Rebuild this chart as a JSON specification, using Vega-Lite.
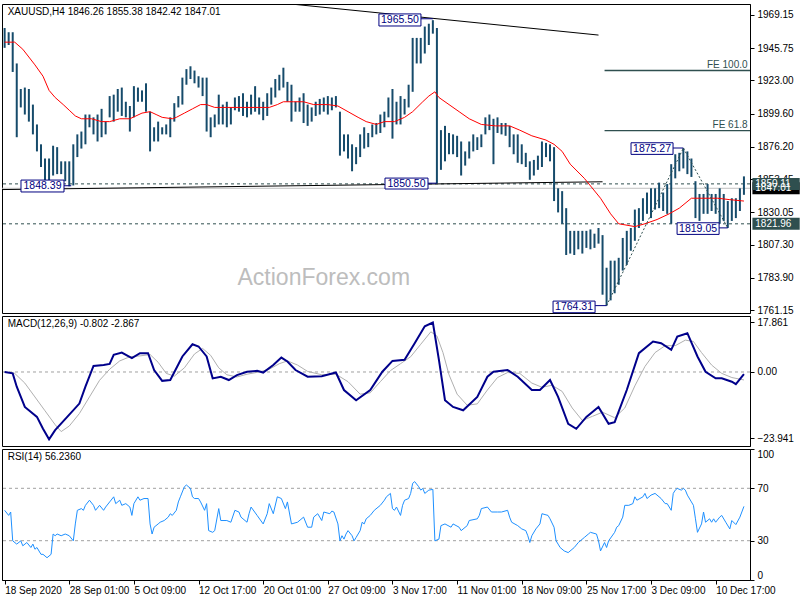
{
"$schema":"https://vega.github.io/schema/vega-lite/v6.json",
"background":"white",
"padding":{"left":0,"top":3,"right":0,"bottom":0},
"spacing":3,
"bounds":"flush",
"config":{"view":{"stroke":"black","strokeWidth":1},"axis":{"labelFont":"Liberation Sans","labelFontSize":10,"labelColor":"black","domainColor":"black","tickColor":"black","grid":false,"tickSize":4,"labelPadding":3},"text":{"font":"Liberation Sans","fontSize":10}},
"datasets":{
"px":[{"i":0,"h":1960,"l":1946},{"i":2,"h":1957,"l":1948},{"i":4,"h":1957,"l":1929},{"i":6,"h":1935,"l":1883},{"i":8,"h":1917,"l":1904},{"i":10,"h":1918,"l":1899},{"i":12,"h":1917,"l":1894},{"i":14,"h":1906,"l":1885},{"i":16,"h":1892,"l":1873},{"i":18,"h":1878,"l":1862},{"i":20,"h":1868,"l":1852},{"i":22,"h":1868,"l":1851},{"i":24,"h":1877,"l":1856},{"i":26,"h":1876,"l":1857},{"i":28,"h":1866,"l":1857},{"i":30,"h":1866,"l":1852},{"i":32,"h":1866,"l":1848.4},{"i":34,"h":1878,"l":1849},{"i":36,"h":1885,"l":1869},{"i":38,"h":1887,"l":1875},{"i":40,"h":1899,"l":1878},{"i":42,"h":1899,"l":1890},{"i":44,"h":1897,"l":1885},{"i":46,"h":1899,"l":1880},{"i":48,"h":1903,"l":1883},{"i":50,"h":1894,"l":1885},{"i":52,"h":1912,"l":1897},{"i":54,"h":1913,"l":1894},{"i":56,"h":1917,"l":1901},{"i":58,"h":1918,"l":1898},{"i":60,"h":1908,"l":1897},{"i":62,"h":1905,"l":1887},{"i":64,"h":1919,"l":1897},{"i":66,"h":1918,"l":1908},{"i":68,"h":1916,"l":1908},{"i":70,"h":1921,"l":1901},{"i":72,"h":1901,"l":1873},{"i":74,"h":1890,"l":1880},{"i":76,"h":1894,"l":1880},{"i":78,"h":1890,"l":1885},{"i":80,"h":1892,"l":1885},{"i":82,"h":1897,"l":1883},{"i":84,"h":1907,"l":1894},{"i":86,"h":1912,"l":1904},{"i":88,"h":1925,"l":1906},{"i":90,"h":1931,"l":1920},{"i":92,"h":1933,"l":1924},{"i":94,"h":1930,"l":1921},{"i":96,"h":1926,"l":1918},{"i":98,"h":1925,"l":1912},{"i":100,"h":1925,"l":1887},{"i":102,"h":1897,"l":1883},{"i":104,"h":1899,"l":1890},{"i":106,"h":1913,"l":1892},{"i":108,"h":1906,"l":1892},{"i":110,"h":1908,"l":1890},{"i":112,"h":1904,"l":1892},{"i":114,"h":1911,"l":1902},{"i":116,"h":1912,"l":1901},{"i":118,"h":1914,"l":1898},{"i":120,"h":1908,"l":1897},{"i":122,"h":1913,"l":1899},{"i":124,"h":1919,"l":1901},{"i":126,"h":1911,"l":1899},{"i":128,"h":1908,"l":1895},{"i":130,"h":1914,"l":1898},{"i":132,"h":1918,"l":1906},{"i":134,"h":1924,"l":1911},{"i":136,"h":1927,"l":1916},{"i":138,"h":1932,"l":1918},{"i":140,"h":1922,"l":1908},{"i":142,"h":1920,"l":1894},{"i":144,"h":1908,"l":1901},{"i":146,"h":1911,"l":1901},{"i":148,"h":1914,"l":1893},{"i":150,"h":1906,"l":1891},{"i":152,"h":1904,"l":1894},{"i":154,"h":1908,"l":1898},{"i":156,"h":1910,"l":1899},{"i":158,"h":1911,"l":1901},{"i":160,"h":1912,"l":1899},{"i":162,"h":1911,"l":1902},{"i":164,"h":1912,"l":1904},{"i":166,"h":1901,"l":1870},{"i":168,"h":1885,"l":1873},{"i":170,"h":1885,"l":1868},{"i":172,"h":1878,"l":1859},{"i":174,"h":1876,"l":1864},{"i":176,"h":1885,"l":1869},{"i":178,"h":1890,"l":1875},{"i":180,"h":1886,"l":1876},{"i":182,"h":1892,"l":1883},{"i":184,"h":1893,"l":1885},{"i":186,"h":1899,"l":1886},{"i":188,"h":1901,"l":1890},{"i":190,"h":1911,"l":1897},{"i":192,"h":1917,"l":1882},{"i":194,"h":1908,"l":1892},{"i":196,"h":1912,"l":1892},{"i":198,"h":1910,"l":1899},{"i":200,"h":1920,"l":1904},{"i":202,"h":1953,"l":1915},{"i":204,"h":1953,"l":1935},{"i":206,"h":1953,"l":1935},{"i":208,"h":1961,"l":1942},{"i":210,"h":1963,"l":1948},{"i":212,"h":1965.5,"l":1956},{"i":214,"h":1960,"l":1850.5},{"i":216,"h":1888,"l":1860},{"i":218,"h":1891,"l":1866},{"i":220,"h":1886,"l":1871},{"i":222,"h":1885,"l":1871},{"i":224,"h":1884,"l":1869},{"i":226,"h":1880,"l":1856},{"i":228,"h":1873,"l":1863},{"i":230,"h":1880,"l":1868},{"i":232,"h":1885,"l":1873},{"i":234,"h":1883,"l":1874},{"i":236,"h":1885,"l":1876},{"i":238,"h":1897,"l":1885},{"i":240,"h":1899,"l":1888},{"i":242,"h":1896,"l":1864},{"i":244,"h":1897,"l":1886},{"i":246,"h":1893,"l":1885},{"i":248,"h":1893,"l":1884},{"i":250,"h":1891,"l":1876},{"i":252,"h":1885,"l":1871},{"i":254,"h":1885,"l":1865},{"i":256,"h":1878,"l":1864},{"i":258,"h":1872,"l":1862},{"i":260,"h":1866,"l":1853},{"i":262,"h":1867,"l":1856},{"i":264,"h":1870,"l":1860},{"i":266,"h":1880,"l":1862},{"i":268,"h":1879,"l":1869},{"i":270,"h":1878,"l":1866},{"i":272,"h":1876,"l":1838},{"i":274,"h":1847,"l":1830},{"i":276,"h":1845,"l":1822},{"i":278,"h":1833,"l":1800},{"i":280,"h":1817,"l":1801},{"i":282,"h":1817,"l":1800},{"i":284,"h":1817,"l":1804},{"i":286,"h":1817,"l":1801},{"i":288,"h":1817,"l":1805},{"i":290,"h":1818,"l":1804},{"i":292,"h":1815,"l":1805},{"i":294,"h":1819,"l":1808},{"i":296,"h":1814,"l":1772},{"i":298,"h":1791,"l":1764.3},{"i":300,"h":1796,"l":1768},{"i":302,"h":1796,"l":1773},{"i":304,"h":1798,"l":1779},{"i":306,"h":1812,"l":1789},{"i":308,"h":1817,"l":1793},{"i":310,"h":1819,"l":1803},{"i":312,"h":1832,"l":1810},{"i":314,"h":1833,"l":1819},{"i":316,"h":1840,"l":1824},{"i":318,"h":1844,"l":1829},{"i":320,"h":1847,"l":1826},{"i":322,"h":1847,"l":1832},{"i":324,"h":1851,"l":1833},{"i":326,"h":1844,"l":1831},{"i":328,"h":1850,"l":1829},{"i":330,"h":1864,"l":1822},{"i":332,"h":1871,"l":1854},{"i":334,"h":1872,"l":1859},{"i":336,"h":1875.3,"l":1861},{"i":338,"h":1873,"l":1857},{"i":340,"h":1868,"l":1855},{"i":342,"h":1852,"l":1826},{"i":344,"h":1843,"l":1824},{"i":346,"h":1843,"l":1829},{"i":348,"h":1850,"l":1829},{"i":350,"h":1843,"l":1831},{"i":352,"h":1843,"l":1829},{"i":354,"h":1847,"l":1822},{"i":356,"h":1843,"l":1824},{"i":358,"h":1838,"l":1819.05},{"i":360,"h":1840,"l":1824},{"i":362,"h":1840,"l":1826},{"i":364,"h":1847,"l":1831},{"i":366,"h":1855.4,"l":1842.4}],
"ma":[{"i":0,"v":1950},{"i":5,"v":1950},{"i":9,"v":1945},{"i":15,"v":1934},{"i":19,"v":1926},{"i":22,"v":1916},{"i":25,"v":1911},{"i":29,"v":1906},{"i":32,"v":1902},{"i":35,"v":1898},{"i":38,"v":1896},{"i":43,"v":1896},{"i":48,"v":1894},{"i":52,"v":1894},{"i":57,"v":1896},{"i":62,"v":1896},{"i":65,"v":1898},{"i":68,"v":1900},{"i":72,"v":1901},{"i":75,"v":1899},{"i":78,"v":1897},{"i":83,"v":1896},{"i":85,"v":1897},{"i":89,"v":1900},{"i":93,"v":1903},{"i":97,"v":1906},{"i":100,"v":1906},{"i":104,"v":1904},{"i":110,"v":1904},{"i":117,"v":1904},{"i":124,"v":1904},{"i":131,"v":1904},{"i":135,"v":1906},{"i":138,"v":1908},{"i":143,"v":1908},{"i":148,"v":1908},{"i":153,"v":1906},{"i":160,"v":1906},{"i":165,"v":1905},{"i":170,"v":1901},{"i":175,"v":1897},{"i":179,"v":1894},{"i":184,"v":1892},{"i":188,"v":1894},{"i":193,"v":1894},{"i":198,"v":1897},{"i":202,"v":1901},{"i":207,"v":1908},{"i":210,"v":1912},{"i":213,"v":1915},{"i":215,"v":1911},{"i":220,"v":1906},{"i":225,"v":1901},{"i":230,"v":1896},{"i":236,"v":1892},{"i":243,"v":1891},{"i":250,"v":1891},{"i":255,"v":1888},{"i":261,"v":1884},{"i":268,"v":1881},{"i":272,"v":1878},{"i":276,"v":1873},{"i":280,"v":1864},{"i":287,"v":1854},{"i":295,"v":1840},{"i":300,"v":1829},{"i":304,"v":1822},{"i":312,"v":1820},{"i":317,"v":1822},{"i":323,"v":1825},{"i":329,"v":1829},{"i":334,"v":1833},{"i":340,"v":1840},{"i":344,"v":1840},{"i":353,"v":1840},{"i":359,"v":1839},{"i":366,"v":1838}],
"macd":[{"i":0,"v":0},{"i":4,"v":-0.5},{"i":6,"v":-5.3},{"i":10,"v":-12.6},{"i":16,"v":-16.2},{"i":19,"v":-20.5},{"i":22,"v":-24.3},{"i":25,"v":-21},{"i":31,"v":-16.2},{"i":37,"v":-11.4},{"i":40,"v":-5.3},{"i":44,"v":2.2},{"i":49,"v":2.5},{"i":52,"v":2.9},{"i":54,"v":6.2},{"i":58,"v":7},{"i":63,"v":5},{"i":67,"v":6.8},{"i":71,"v":6.8},{"i":74,"v":0.7},{"i":78,"v":-3.2},{"i":82,"v":-2.9},{"i":88,"v":5.6},{"i":93,"v":10},{"i":96,"v":9.2},{"i":100,"v":5.6},{"i":103,"v":-2.3},{"i":107,"v":-1.7},{"i":111,"v":-2.9},{"i":115,"v":-1.1},{"i":120,"v":0.1},{"i":125,"v":0.4},{"i":128,"v":-0.2},{"i":133,"v":2.5},{"i":137,"v":5.2},{"i":140,"v":3.8},{"i":144,"v":0.7},{"i":150,"v":-1.7},{"i":157,"v":-1.5},{"i":164,"v":-0.2},{"i":168,"v":-6.5},{"i":174,"v":-10.2},{"i":181,"v":-6.5},{"i":187,"v":0.1},{"i":192,"v":4},{"i":198,"v":4.4},{"i":203,"v":10.4},{"i":208,"v":16.5},{"i":212,"v":17.86},{"i":215,"v":4.4},{"i":218,"v":-10.2},{"i":222,"v":-12.6},{"i":227,"v":-13.8},{"i":234,"v":-9},{"i":239,"v":-1.7},{"i":242,"v":0.1},{"i":249,"v":0.7},{"i":254,"v":-1.7},{"i":261,"v":-6.5},{"i":265,"v":-6.5},{"i":270,"v":-2.9},{"i":274,"v":-9},{"i":279,"v":-18.7},{"i":283,"v":-20.5},{"i":288,"v":-16.2},{"i":294,"v":-12.6},{"i":299,"v":-18.7},{"i":302,"v":-18.1},{"i":308,"v":-6.5},{"i":314,"v":6.8},{"i":321,"v":11},{"i":325,"v":10.4},{"i":330,"v":8},{"i":333,"v":12.8},{"i":338,"v":14},{"i":343,"v":5.6},{"i":347,"v":0.1},{"i":352,"v":-2.3},{"i":355,"v":-2.3},{"i":360,"v":-3.5},{"i":362,"v":-4.4},{"i":366,"v":-0.8}],
"sig":[{"i":0,"v":0},{"i":5,"v":-0.5},{"i":10,"v":-4},{"i":15,"v":-9},{"i":20,"v":-14},{"i":25,"v":-19},{"i":28,"v":-21.5},{"i":32,"v":-19.5},{"i":37,"v":-15},{"i":42,"v":-9},{"i":47,"v":-3},{"i":52,"v":1},{"i":57,"v":4},{"i":62,"v":5.5},{"i":67,"v":5.8},{"i":72,"v":6.3},{"i":76,"v":3.5},{"i":80,"v":-0.5},{"i":84,"v":-1.5},{"i":89,"v":1.5},{"i":94,"v":6.5},{"i":98,"v":8.5},{"i":102,"v":6},{"i":106,"v":1.5},{"i":110,"v":-1},{"i":115,"v":-1.8},{"i":120,"v":-0.8},{"i":126,"v":0},{"i":131,"v":1},{"i":136,"v":3},{"i":140,"v":4},{"i":145,"v":2.5},{"i":150,"v":0.2},{"i":157,"v":-1},{"i":164,"v":-0.8},{"i":170,"v":-3.5},{"i":176,"v":-8},{"i":181,"v":-7.5},{"i":186,"v":-3.5},{"i":191,"v":0.5},{"i":196,"v":3},{"i":201,"v":5.5},{"i":206,"v":10},{"i":211,"v":14.5},{"i":214,"v":13},{"i":217,"v":7},{"i":220,"v":-1},{"i":224,"v":-8},{"i":229,"v":-12},{"i":234,"v":-11.5},{"i":239,"v":-6.5},{"i":244,"v":-2},{"i":249,"v":-0.2},{"i":255,"v":-0.5},{"i":261,"v":-4},{"i":266,"v":-5.5},{"i":271,"v":-4.8},{"i":276,"v":-7},{"i":281,"v":-13},{"i":286,"v":-17.5},{"i":291,"v":-16},{"i":296,"v":-14.5},{"i":302,"v":-16.5},{"i":307,"v":-13},{"i":312,"v":-5},{"i":317,"v":2},{"i":322,"v":7},{"i":327,"v":9.5},{"i":332,"v":9.5},{"i":337,"v":11.5},{"i":341,"v":11},{"i":345,"v":7},{"i":350,"v":2.5},{"i":355,"v":-0.5},{"i":360,"v":-2},{"i":366,"v":-2.87}],
"rsi":[{"i":0,"v":53.2},{"i":2,"v":49.3},{"i":3,"v":51.9},{"i":4,"v":29.9},{"i":6,"v":27.4},{"i":8,"v":29.9},{"i":9,"v":26.1},{"i":11,"v":28.6},{"i":13,"v":24.8},{"i":14,"v":27.4},{"i":15,"v":23.5},{"i":16,"v":24.8},{"i":18,"v":19.6},{"i":19,"v":19.6},{"i":21,"v":17},{"i":23,"v":19.6},{"i":24,"v":35.1},{"i":25,"v":33.8},{"i":26,"v":35.1},{"i":28,"v":33.8},{"i":30,"v":35.1},{"i":32,"v":33.8},{"i":34,"v":29.9},{"i":35,"v":42.8},{"i":36,"v":53.2},{"i":38,"v":54.5},{"i":39,"v":53.2},{"i":40,"v":57},{"i":42,"v":60.9},{"i":44,"v":57},{"i":45,"v":53.2},{"i":47,"v":57},{"i":49,"v":53.2},{"i":50,"v":55.7},{"i":52,"v":59.6},{"i":54,"v":63.5},{"i":55,"v":58.3},{"i":57,"v":60.9},{"i":58,"v":57},{"i":60,"v":58.3},{"i":62,"v":55.7},{"i":63,"v":49.3},{"i":64,"v":58.3},{"i":66,"v":63.5},{"i":67,"v":60.9},{"i":69,"v":62.2},{"i":71,"v":62.2},{"i":72,"v":42.8},{"i":73,"v":35.1},{"i":74,"v":40.3},{"i":76,"v":42.8},{"i":77,"v":44.1},{"i":79,"v":45.4},{"i":81,"v":48},{"i":82,"v":50.6},{"i":83,"v":49.3},{"i":85,"v":53.2},{"i":86,"v":59.6},{"i":87,"v":63.5},{"i":89,"v":71.2},{"i":90,"v":72.5},{"i":92,"v":69.9},{"i":93,"v":63.5},{"i":94,"v":62.2},{"i":96,"v":62.2},{"i":97,"v":59.6},{"i":99,"v":53.2},{"i":100,"v":58.3},{"i":101,"v":37.7},{"i":103,"v":36.4},{"i":104,"v":37.7},{"i":106,"v":54.5},{"i":107,"v":45.4},{"i":110,"v":45.4},{"i":112,"v":44.1},{"i":114,"v":53.2},{"i":116,"v":51.9},{"i":117,"v":48},{"i":120,"v":44.1},{"i":121,"v":50.6},{"i":122,"v":55.7},{"i":125,"v":49.3},{"i":128,"v":42.8},{"i":130,"v":50.6},{"i":131,"v":58.3},{"i":133,"v":50.6},{"i":135,"v":63.5},{"i":137,"v":62.2},{"i":139,"v":54.5},{"i":140,"v":59.6},{"i":142,"v":42.8},{"i":145,"v":44.1},{"i":148,"v":48},{"i":150,"v":40.3},{"i":152,"v":40.3},{"i":153,"v":48},{"i":155,"v":50.6},{"i":157,"v":45.4},{"i":158,"v":51.9},{"i":161,"v":50.6},{"i":162,"v":52.6},{"i":163,"v":51.9},{"i":165,"v":42.8},{"i":166,"v":29.9},{"i":167,"v":33.8},{"i":168,"v":31.2},{"i":169,"v":35.1},{"i":170,"v":37.7},{"i":172,"v":33.8},{"i":173,"v":29.9},{"i":174,"v":32.5},{"i":176,"v":37.7},{"i":177,"v":44.1},{"i":178,"v":42.8},{"i":179,"v":46.7},{"i":181,"v":49.3},{"i":183,"v":53.2},{"i":186,"v":57},{"i":188,"v":60.9},{"i":189,"v":63.5},{"i":191,"v":66.1},{"i":192,"v":54.5},{"i":193,"v":53.2},{"i":194,"v":55.7},{"i":196,"v":49.3},{"i":197,"v":57},{"i":198,"v":60.9},{"i":200,"v":62.2},{"i":201,"v":66.1},{"i":202,"v":73.8},{"i":203,"v":75.1},{"i":205,"v":71.2},{"i":206,"v":68.6},{"i":207,"v":69.9},{"i":208,"v":66.1},{"i":210,"v":68.6},{"i":212,"v":69.2},{"i":213,"v":29.9},{"i":215,"v":31.2},{"i":216,"v":41.5},{"i":218,"v":42.8},{"i":221,"v":40.3},{"i":222,"v":42.8},{"i":225,"v":40.3},{"i":226,"v":37.7},{"i":229,"v":41.5},{"i":230,"v":45.4},{"i":234,"v":46.7},{"i":235,"v":49.3},{"i":236,"v":54.5},{"i":239,"v":55.7},{"i":241,"v":51.9},{"i":244,"v":51.9},{"i":246,"v":51.9},{"i":249,"v":53.2},{"i":250,"v":48},{"i":251,"v":44.1},{"i":254,"v":41.5},{"i":256,"v":39},{"i":258,"v":37.7},{"i":259,"v":33.8},{"i":260,"v":28.6},{"i":261,"v":33.8},{"i":263,"v":39},{"i":265,"v":42.8},{"i":266,"v":50.6},{"i":269,"v":49.3},{"i":270,"v":46.7},{"i":272,"v":40.3},{"i":273,"v":29.9},{"i":274,"v":27.4},{"i":275,"v":24.8},{"i":277,"v":22.2},{"i":279,"v":20.9},{"i":282,"v":24.8},{"i":284,"v":28.6},{"i":287,"v":32.5},{"i":289,"v":35.1},{"i":290,"v":36.4},{"i":293,"v":35.1},{"i":294,"v":29.9},{"i":295,"v":22.2},{"i":297,"v":28.6},{"i":298,"v":24.8},{"i":299,"v":29.9},{"i":302,"v":36.4},{"i":303,"v":40.3},{"i":304,"v":41.5},{"i":306,"v":48},{"i":307,"v":57},{"i":309,"v":57},{"i":311,"v":58.3},{"i":312,"v":63.5},{"i":313,"v":60.9},{"i":316,"v":63.5},{"i":317,"v":66.1},{"i":318,"v":62.2},{"i":320,"v":64.8},{"i":322,"v":66.1},{"i":325,"v":62.2},{"i":327,"v":58.3},{"i":328,"v":58.3},{"i":330,"v":53.2},{"i":331,"v":66.1},{"i":332,"v":68.6},{"i":333,"v":69.9},{"i":335,"v":68.6},{"i":336,"v":69.9},{"i":337,"v":68.6},{"i":338,"v":64.8},{"i":340,"v":59.6},{"i":341,"v":57},{"i":342,"v":46.7},{"i":343,"v":36.4},{"i":345,"v":42.8},{"i":346,"v":51.9},{"i":347,"v":44.1},{"i":349,"v":46.7},{"i":350,"v":44.1},{"i":351,"v":46.7},{"i":352,"v":44.1},{"i":354,"v":48},{"i":355,"v":49.3},{"i":357,"v":44.1},{"i":359,"v":39},{"i":360,"v":45.4},{"i":362,"v":42.3},{"i":364,"v":48},{"i":366,"v":56.2}],
"lv":[{"k":"bid","p":1847.01,"t":"1847.01"},{"k":"lvl","p":1850.11,"t":"1850.11"},{"k":"lvl","p":1821.96,"t":"1821.96"}],
"seg":[{"k":"trend","i1":141,"i2":294,"p1":1977,"p2":1955},{"k":"trend","i1":-1.3,"i2":296,"p1":1846.1,"p2":1851.6},{"k":"fe","t":"FE 100.0","i1":297,"i2":369,"p1":1930.01,"p2":1930.01},{"k":"fe","t":"FE 61.8","i1":297,"i2":369,"p1":1887.62,"p2":1887.62},{"k":"conn","i1":206.1,"i2":212,"p1":1966.5,"p2":1966.5},{"k":"conn","i1":29.4,"i2":33,"p1":1848.8,"p2":1848.8},{"k":"conn","i1":209.6,"i2":214,"p1":1850.6,"p2":1850.6},{"k":"conn","i1":330.9,"i2":336,"p1":1875.4,"p2":1875.4},{"k":"conn","i1":353.7,"i2":358,"p1":1819.1,"p2":1819.1},{"k":"conn","i1":292.3,"i2":298,"p1":1764.3,"p2":1764.3},{"k":"zig","i1":298,"i2":336,"p1":1764.31,"p2":1875.27},{"k":"zig","i1":336,"i2":358,"p1":1875.27,"p2":1819.05}],
"box":[{"t":"1965.50","i1":185.3,"i2":206.1,"p1":1961.4,"p2":1969.9,"ic":195.7,"pc":1965.65},{"t":"1848.39","i1":8.1,"i2":29.4,"p1":1844.4,"p2":1852.8,"ic":18.75,"pc":1848.6},{"t":"1850.50","i1":188.3,"i2":209.6,"p1":1846.5,"p2":1854.2,"ic":198.95,"pc":1850.35},{"t":"1875.27","i1":310.1,"i2":330.9,"p1":1870.9,"p2":1879.1,"ic":320.5,"pc":1875},{"t":"1819.05","i1":332.9,"i2":353.7,"p1":1814.5,"p2":1822.7,"ic":343.3,"pc":1818.6},{"t":"1764.31","i1":271.5,"i2":292.3,"p1":1759.3,"p2":1767.5,"ic":281.9,"pc":1763.4}],
"lev":[{"k":"m","v":0},{"k":"r","v":70},{"k":"r","v":30}],
"hdr":[{"k":"p","t":"XAUUSD,H4  1846.26 1855.38 1842.42 1847.01"},{"k":"m","t":"MACD(12,26,9) -0.802 -2.867"},{"k":"r","t":"RSI(14) 56.2360"},{"k":"w","t":"ActionForex.com"}]
},
"vconcat":[
{"width":748,"height":309,
"resolve":{"axis":{"x":"independent","y":"independent"}},
"layer":[
{"data":{"name":"lv"},"transform":[{"filter":"datum.k=='bid'"}],"mark":{"type":"rule","color":"#C0C0C0"},"encoding":{"y":{"field":"p","type":"quantitative","scale":{"domain":[1759.1,1976.9],"nice":false,"zero":false},"axis":null}}},
{"data":{"name":"lv"},"transform":[{"filter":"datum.k=='lvl'"}],"mark":{"type":"rule","color":"#2F4F4F","strokeDash":[3,3]},"encoding":{"y":{"field":"p","type":"quantitative","scale":{"domain":[1759.1,1976.9],"nice":false,"zero":false},"axis":null}}},
{"data":{"name":"seg"},"transform":[{"filter":"datum.k=='trend'"}],"mark":{"type":"rule","color":"black","clip":true},"encoding":{"x":{"field":"i1","type":"quantitative","scale":{"domain":[-1.3,369],"nice":false,"zero":false},"axis":null},"x2":{"field":"i2"},"y":{"field":"p1","type":"quantitative","scale":{"domain":[1759.1,1976.9],"nice":false,"zero":false},"axis":null},"y2":{"field":"p2"}}},
{"data":{"name":"seg"},"transform":[{"filter":"datum.k=='fe'"}],"mark":{"type":"rule","color":"#2F4F4F","strokeWidth":1.3},"encoding":{"x":{"field":"i1","type":"quantitative","scale":{"domain":[-1.3,369],"nice":false,"zero":false},"axis":null},"x2":{"field":"i2"},"y":{"field":"p1","type":"quantitative","scale":{"domain":[1759.1,1976.9],"nice":false,"zero":false},"axis":null},"y2":{"field":"p2"}}},
{"data":{"name":"px"},"mark":{"type":"rule","color":"#164B6B","strokeWidth":2},"encoding":{"x":{"field":"i","type":"quantitative","scale":{"domain":[-1.3,369],"nice":false,"zero":false},"axis":null},"y":{"field":"l","type":"quantitative","scale":{"domain":[1759.1,1976.9],"nice":false,"zero":false},"axis":{"orient":"right","title":null,"values":[1969.15,1945.75,1923,1899.6,1876.2,1853.45,1830.05,1807.3,1783.9,1761.15],"format":".2f","labelOverlap":false}},"y2":{"field":"h"}}},
{"data":{"name":"ma"},"mark":{"type":"line","color":"#FF0000","strokeWidth":1},"encoding":{"x":{"field":"i","type":"quantitative","scale":{"domain":[-1.3,369],"nice":false,"zero":false},"axis":null},"y":{"field":"v","type":"quantitative","scale":{"domain":[1759.1,1976.9],"nice":false,"zero":false},"axis":null}}},
{"data":{"name":"seg"},"transform":[{"filter":"datum.k=='zig'"}],"mark":{"type":"rule","color":"#2F4F4F","strokeDash":[2,2]},"encoding":{"x":{"field":"i1","type":"quantitative","scale":{"domain":[-1.3,369],"nice":false,"zero":false},"axis":null},"x2":{"field":"i2"},"y":{"field":"p1","type":"quantitative","scale":{"domain":[1759.1,1976.9],"nice":false,"zero":false},"axis":null},"y2":{"field":"p2"}}},
{"data":{"name":"seg"},"transform":[{"filter":"datum.k=='conn'"}],"mark":{"type":"rule","color":"#000080"},"encoding":{"x":{"field":"i1","type":"quantitative","scale":{"domain":[-1.3,369],"nice":false,"zero":false},"axis":null},"x2":{"field":"i2"},"y":{"field":"p1","type":"quantitative","scale":{"domain":[1759.1,1976.9],"nice":false,"zero":false},"axis":null},"y2":{"field":"p2"}}},
{"data":{"name":"seg"},"transform":[{"filter":"datum.k=='fe'"}],"mark":{"type":"text","align":"right","baseline":"bottom","dy":-1,"color":"#2F4F4F"},"encoding":{"x":{"datum":367.8,"type":"quantitative","scale":{"domain":[-1.3,369],"nice":false,"zero":false},"axis":null},"y":{"field":"p1","type":"quantitative","scale":{"domain":[1759.1,1976.9],"nice":false,"zero":false},"axis":null},"text":{"field":"t"}}},
{"data":{"name":"box"},"mark":{"type":"rect","fill":"white","stroke":"#000080","strokeWidth":1},"encoding":{"x":{"field":"i1","type":"quantitative","scale":{"domain":[-1.3,369],"nice":false,"zero":false},"axis":null},"x2":{"field":"i2"},"y":{"field":"p1","type":"quantitative","scale":{"domain":[1759.1,1976.9],"nice":false,"zero":false},"axis":null},"y2":{"field":"p2"}}},
{"data":{"name":"box"},"mark":{"type":"text","align":"center","baseline":"middle","color":"#000080","fontSize":10.5},"encoding":{"x":{"field":"ic","type":"quantitative","scale":{"domain":[-1.3,369],"nice":false,"zero":false},"axis":null},"y":{"field":"pc","type":"quantitative","scale":{"domain":[1759.1,1976.9],"nice":false,"zero":false},"axis":null},"text":{"field":"t"}}},
{"data":{"name":"hdr"},"transform":[{"filter":"datum.k=='p'"}],"mark":{"type":"text","align":"left","baseline":"middle","color":"black"},"encoding":{"x":{"datum":1.5,"type":"quantitative","scale":{"domain":[-1.3,369],"nice":false,"zero":false},"axis":null},"y":{"datum":1971.3,"type":"quantitative","scale":{"domain":[1759.1,1976.9],"nice":false,"zero":false},"axis":null},"text":{"field":"t"}}},
{"data":{"name":"hdr"},"transform":[{"filter":"datum.k=='w'"}],"mark":{"type":"text","align":"center","baseline":"middle","color":"#BDBDBD","fontSize":23},"encoding":{"x":{"datum":158,"type":"quantitative","scale":{"domain":[-1.3,369],"nice":false,"zero":false},"axis":null},"y":{"datum":1783.7,"type":"quantitative","scale":{"domain":[1759.1,1976.9],"nice":false,"zero":false},"axis":null},"text":{"field":"t"}}},
{"data":{"name":"lv"},"mark":{"type":"rule","strokeWidth":12,"strokeCap":"butt"},"encoding":{"x":{"datum":370.2,"type":"quantitative","scale":{"domain":[-1.3,369],"nice":false,"zero":false},"axis":null},"x2":{"datum":393.6},"y":{"field":"p","type":"quantitative","scale":{"domain":[1759.1,1976.9],"nice":false,"zero":false},"axis":null},"color":{"condition":{"test":"datum.k=='bid'","value":"black"},"value":"#2F4F4F"}}},
{"data":{"name":"lv"},"mark":{"type":"text","align":"left","baseline":"middle","color":"white"},"encoding":{"x":{"datum":371.6,"type":"quantitative","scale":{"domain":[-1.3,369],"nice":false,"zero":false},"axis":null},"y":{"field":"p","type":"quantitative","scale":{"domain":[1759.1,1976.9],"nice":false,"zero":false},"axis":null},"text":{"field":"t"}}}
]},
{"width":748,"height":130,
"resolve":{"axis":{"x":"independent","y":"independent"}},
"layer":[
{"data":{"name":"lev"},"transform":[{"filter":"datum.k=='m'"}],"mark":{"type":"rule","color":"#A0A0A0","strokeDash":[3,3]},"encoding":{"y":{"field":"v","type":"quantitative","scale":{"domain":[-26.7,20.2],"nice":false,"zero":false},"axis":null}}},
{"data":{"name":"sig"},"mark":{"type":"line","color":"#B0B0B0","strokeWidth":1},"encoding":{"x":{"field":"i","type":"quantitative","scale":{"domain":[-1.3,369],"nice":false,"zero":false},"axis":null},"y":{"field":"v","type":"quantitative","scale":{"domain":[-26.7,20.2],"nice":false,"zero":false},"axis":null}}},
{"data":{"name":"macd"},"mark":{"type":"line","color":"#00008B","strokeWidth":2},"encoding":{"x":{"field":"i","type":"quantitative","scale":{"domain":[-1.3,369],"nice":false,"zero":false},"axis":null},"y":{"field":"v","type":"quantitative","scale":{"domain":[-26.7,20.2],"nice":false,"zero":false},"axis":{"orient":"right","title":null,"values":[17.861,0,-23.941],"labelExpr":"datum.value == 0 ? '0.00' : format(datum.value, '.3f')","labelOverlap":false}}}},
{"data":{"name":"hdr"},"transform":[{"filter":"datum.k=='m'"}],"mark":{"type":"text","align":"left","baseline":"middle","color":"black"},"encoding":{"x":{"datum":1.5,"type":"quantitative","scale":{"domain":[-1.3,369],"nice":false,"zero":false},"axis":null},"y":{"datum":17.3,"type":"quantitative","scale":{"domain":[-26.7,20.2],"nice":false,"zero":false},"axis":null},"text":{"field":"t"}}}
]},
{"width":748,"height":131,
"resolve":{"axis":{"x":"independent","y":"independent"}},
"layer":[
{"data":{"name":"lev"},"transform":[{"filter":"datum.k=='r'"}],"mark":{"type":"rule","color":"#A0A0A0","strokeDash":[3,3]},"encoding":{"y":{"field":"v","type":"quantitative","scale":{"domain":[0,100],"nice":false,"zero":false},"axis":null}}},
{"data":{"name":"rsi"},"mark":{"type":"line","color":"#1E90FF","strokeWidth":1},"encoding":{"x":{"field":"i","type":"quantitative","scale":{"domain":[-1.3,369],"nice":false,"zero":false},"axis":{"orient":"bottom","title":null,"values":[0,32,64,96,128,160,192,224,256,288,320,352],"labelExpr":"['18 Sep 2020','28 Sep 01:00','5 Oct 09:00','12 Oct 17:00','20 Oct 01:00','27 Oct 09:00','3 Nov 17:00','11 Nov 01:00','18 Nov 09:00','25 Nov 17:00','3 Dec 09:00','10 Dec 17:00'][round(datum.value/32)]","labelAlign":"left","labelFlush":false,"labelOverlap":false,"labelPadding":1}},"y":{"field":"v","type":"quantitative","scale":{"domain":[0,100],"nice":false,"zero":false},"axis":{"orient":"right","title":null,"values":[0,30,70,100],"labelFlush":true,"labelOverlap":false}}}},
{"data":{"name":"hdr"},"transform":[{"filter":"datum.k=='r'"}],"mark":{"type":"text","align":"left","baseline":"middle","color":"black"},"encoding":{"x":{"datum":1.5,"type":"quantitative","scale":{"domain":[-1.3,369],"nice":false,"zero":false},"axis":null},"y":{"datum":93.9,"type":"quantitative","scale":{"domain":[0,100],"nice":false,"zero":false},"axis":null},"text":{"field":"t"}}}
]}
]
}
